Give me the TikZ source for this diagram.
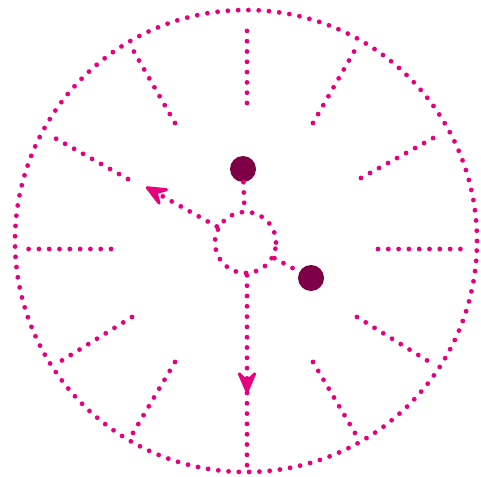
\documentclass[tikz,border=0pt]{standalone}
\usetikzlibrary{arrows.meta}
\definecolor{pinkdot}{RGB}{230,0,126}
\definecolor{darkdot}{RGB}{125,0,70}
\begin{document}
\begin{tikzpicture}[x=1pt,y=-1pt,
  dotline/.style={draw=pinkdot, line width=4.8pt, line cap=round, dash pattern=on 0pt off 10.3pt},
  ringnode/.style={circle, dotline, inner sep=0pt},
  blob/.style={circle, fill=darkdot, minimum size=26pt, inner sep=0pt},
  tipped/.style={-{Stealth[length=28pt,width=24pt,inset=12pt,line width=3pt,round]}}]
\useasboundingbox (0,0) rectangle (481,476);
\node[ringnode, minimum size=462pt] (outer) at (246,241) {};
\node[ringnode, minimum size=61pt] (hub) at (245.5,242.5) {};
\node[blob] (a) at (243,169) {};
\node[blob] (b) at (311,278) {};
\draw[dotline] (a) -- (hub);
\draw[dotline] (hub) -- (b);
\coordinate (tipL) at (146,187);
\coordinate (tipD) at (247,393);
\draw[dotline, tipped] (hub) -- (tipL);
\draw[dotline, tipped] (tipD |- hub.south) -- (tipD);
\draw[dotline] (tipD) -- (tipD |- outer.south);
\foreach \xa/\ya/\xb/\yb in {378/249/462/249, 361/178/435/137, 313/123/355/50,
  247/103/247/21, 175/123/133/50, 128/179/53/137, 111/249/28/249,
  132/317/61/361, 175/362/133/433, 313/362/355/433, 357/317/428/361}
  \draw[dotline] (\xa,\ya) -- (\xb,\yb);
\end{tikzpicture}
\end{document}
